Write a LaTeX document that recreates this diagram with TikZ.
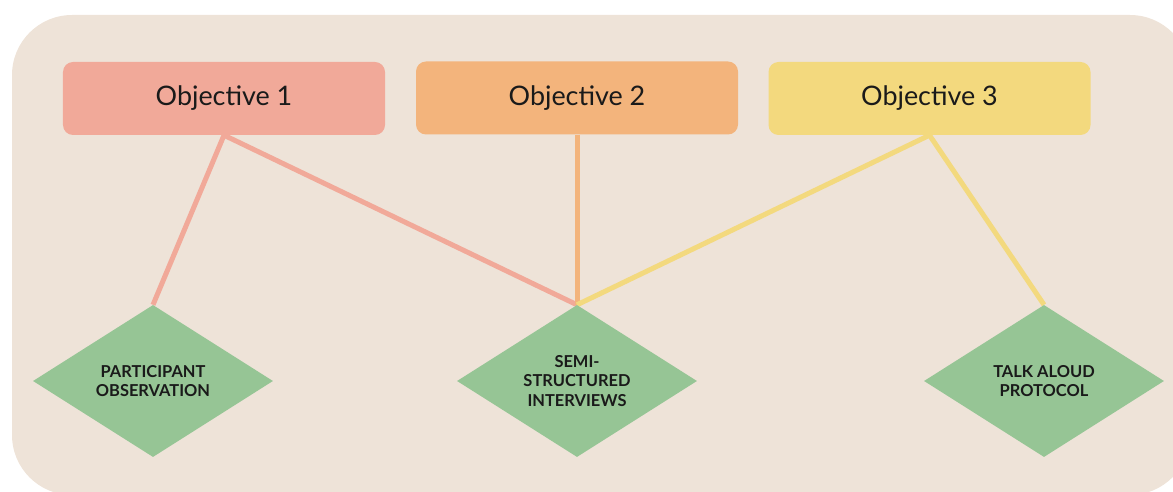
\documentclass[tikz,border=0pt]{standalone}
\usepackage{fontspec}
\setmainfont{Lato}
\usetikzlibrary{shapes.geometric}
\pgfdeclarelayer{back}
\pgfdeclarelayer{lines}
\pgfsetlayers{back,lines,main}
\definecolor{bgc}{HTML}{EEE3D8}
\definecolor{objA}{HTML}{F1A999}
\definecolor{objB}{HTML}{F3B47C}
\definecolor{objC}{HTML}{F3D97E}
\definecolor{dia}{HTML}{96C595}
\definecolor{txt}{HTML}{1A1A1A}
\tikzset{
  objbox/.style={rectangle, rounded corners=10bp, minimum width=322bp, minimum height=73bp,
    inner sep=0pt, text=txt, font=\fontsize{27}{30}\selectfont},
  method/.style={diamond, fill=dia, minimum width=240bp, minimum height=152bp, aspect=1.58,
    inner sep=0pt, text=txt, align=center, font=\bfseries\fontsize{16.5}{19.5}\selectfont},
  link/.style={line width=5bp}
}
\begin{document}
\begin{tikzpicture}[x=1bp,y=-1bp]
\useasboundingbox (0,0) rectangle (1173,492);
\begin{pgfonlayer}{back}
\fill[bgc, rounded corners=60bp] (12,15) rectangle (1190,495);
\end{pgfonlayer}
\node[objbox, fill=objA] (o1) at (224,98.5) {Objective 1};
\node[objbox, fill=objB] (o2) at (577,98) {Objective 2};
\node[objbox, fill=objC] (o3) at (929.5,98.5) {Objective 3};
\node[method] (m1) at (153,381) {PARTICIPANT\\OBSERVATION};
\node[method] (m2) at (577,381) {SEMI-\\STRUCTURED\\INTERVIEWS};
\node[method] (m3) at (1044,381) {TALK ALOUD\\PROTOCOL};
\begin{pgfonlayer}{lines}
\draw[link, objA] (o1.south) -- (m1.north);
\draw[link, objA] (o1.south) -- (m2.north);
\draw[link, objB] (o2.south) -- (m2.north);
\draw[link, objC] (o3.south) -- (m2.north);
\draw[link, objC] (o3.south) -- (m3.north);
\end{pgfonlayer}
\end{tikzpicture}
\end{document}
